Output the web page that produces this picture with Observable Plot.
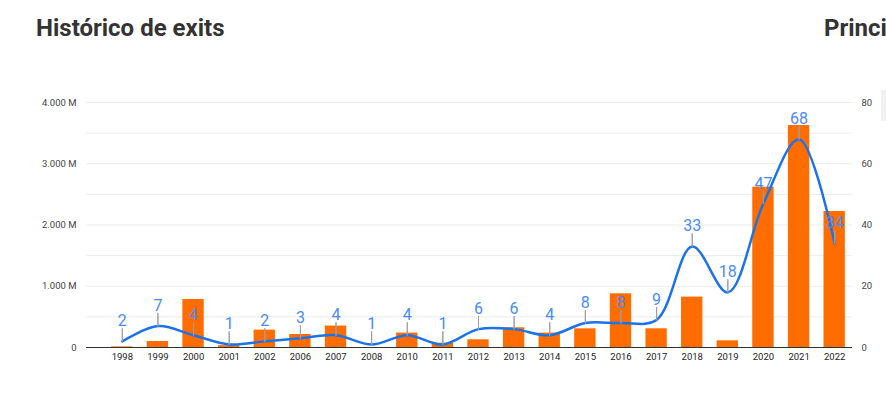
<!DOCTYPE html>
<html><head><meta charset="utf-8">
<script src="https://cdn.jsdelivr.net/npm/d3@7"></script>
<script src="https://cdn.jsdelivr.net/npm/@observablehq/plot@0.6"></script>
<style>
body{margin:0;background:#fff;overflow:hidden;font-family:Roboto,sans-serif}
#wrap{position:relative;width:886px;height:399px;overflow:hidden}
.title{position:absolute;top:16px;font-weight:700;font-size:24px;line-height:24px;color:#333;margin:0;white-space:nowrap}
#chart{position:absolute;left:0;top:0}
#side{position:absolute;left:881px;top:90px;width:10px;height:31px;background:#f1f1f1}
</style></head>
<body><div id="wrap">
<div class="title" style="left:36px">Histórico de exits</div>
<div class="title" style="left:824px">Principais</div>
<div id="side"></div>
<div id="chart"></div>
</div>
<script>
const years = ["1998","1999","2000","2001","2002","2006","2007","2008","2010","2011","2012","2013","2014","2015","2016","2017","2018","2019","2020","2021","2022"];
const amounts = [10, 98, 784, 30, 284, 212, 350, 0, 235, 70, 126, 322, 235, 305, 877, 305, 823, 109, 2617, 3624, 2220]; // M
const counts = [2, 7, 4, 1, 2, 3, 4, 1, 4, 1, 6, 6, 4, 8, 8, 9, 33, 18, 47, 68, 34];
const leftTicks = [0, 1000, 2000, 3000, 4000];
const gridTicks = [500, 1000, 1500, 2000, 2500, 3000, 3500, 4000];
const rightTicks = [0, 20, 40, 60, 80];

const ratio = 4000 / 80;
const data = years.map((y, i) => ({year: y, amount: amounts[i], count: counts[i], cy: counts[i] * ratio}));
const fmtLeft = d => d === 0 ? "0" : d3.format(",")(d).replace(/,/g, ".") + " M";

const chart = Plot.plot({
  width: 886,
  height: 399,
  marginTop: 102,
  marginBottom: 52,
  marginLeft: 86,
  marginRight: 34,
  insetLeft: 18,
  style: {fontFamily: "Roboto, sans-serif", fontSize: "9.5px", color: "#444", background: "transparent"},
  x: {type: "band", domain: years, paddingInner: 0.4, paddingOuter: 0.2, round: false, label: null},
  y: {domain: [0, 4000], label: null},
  marks: [
    Plot.ruleY(gridTicks, {stroke: "#ebebeb", strokeWidth: 1}),
    Plot.axisY(leftTicks, {anchor: "left", tickSize: 0, tickPadding: 10, tickFormat: fmtLeft, label: null, fill: "#444"}),
    Plot.axisY(rightTicks.map(d => d * ratio), {anchor: "right", tickSize: 0, tickPadding: 9, tickFormat: d => String(d / ratio), label: null, fill: "#444"}),
    Plot.axisX({tickSize: 0, tickPadding: 6, label: null, fill: "#222"}),
    Plot.barY(data, {x: "year", y: "amount", fill: "#ff6d00"}),
    Plot.ruleY([0], {stroke: "#333", strokeWidth: 1.2}),
    Plot.line(data, {x: "year", y: "cy", stroke: "#1a73e8", strokeWidth: 2.5, curve: "catmull-rom"}),
    Plot.vector(data, {x: "year", y: "cy", length: 13, rotate: 0, anchor: "start", shape: "spike", r: 0, stroke: "#9e9e9e", fill: "none", strokeWidth: 1}),
    Plot.text(data, {x: "year", y: "cy", text: d => String(d.count), dy: -15, lineAnchor: "bottom", fontSize: 16, fill: "#4a8af4"})
  ]
});
document.getElementById("chart").appendChild(chart);
</script>
</body></html>
